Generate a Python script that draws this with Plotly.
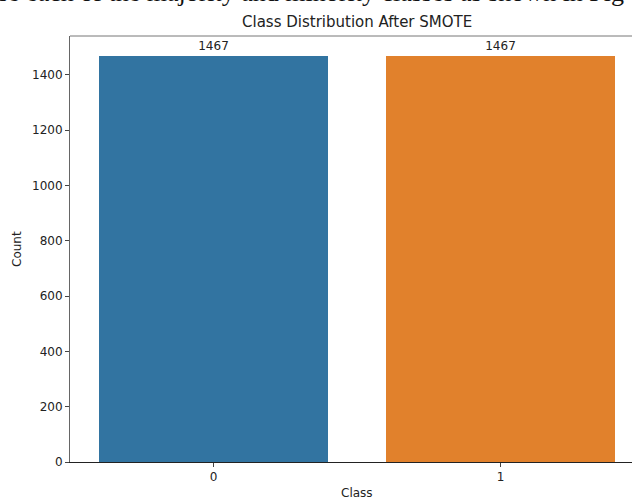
import plotly.graph_objects as go

categories = ["0", "1"]
counts = [1467, 1467]
bar_colors = ["#3274a1", "#e1812c"]
y_ticks = [0, 200, 400, 600, 800, 1000, 1200, 1400]
title_text = "Class Distribution After SMOTE"
doc_text = "se each of the majority and minority classes as shown in Fig"

x_pos = [0, 1]

fig = go.Figure()
fig.add_trace(go.Bar(
    x=x_pos, y=counts, width=0.8,
    marker=dict(color=bar_colors, line=dict(width=0)),
    text=[str(c) for c in counts], textposition="outside",
    textfont=dict(family="DejaVu Sans", size=12, color="#222"),
    cliponaxis=False, showlegend=False,
))

xc = (356.5 - 70) / 562

fig.update_layout(
    width=632, height=500,
    margin=dict(l=70, r=0, t=36, b=38),
    paper_bgcolor="white", plot_bgcolor="white",
    font=dict(family="DejaVu Sans", size=12, color="#222"),
    bargap=0,
    xaxis=dict(
        range=[-0.5, 1.458], tickmode="array", tickvals=x_pos, ticktext=categories,
        showgrid=False, zeroline=False, showline=True, linecolor="#222", linewidth=1,
        ticks="outside", ticklen=4, tickcolor="#444", tickfont=dict(size=12, color="#222"),
    ),
    yaxis=dict(
        range=[0, 1540.35], tickmode="array", tickvals=y_ticks,
        showgrid=False, zeroline=False, showline=True, linecolor="#666", linewidth=1,
        ticks="outside", ticklen=4, tickcolor="#444", tickfont=dict(size=12, color="#222"),
    ),
    shapes=[dict(type="line", xref="paper", yref="paper", x0=0, x1=1, y0=1, y1=1,
                 line=dict(color="#777", width=1))],
    annotations=[
        dict(text=title_text, xref="paper", yref="paper", x=xc, y=1,
             yshift=14, xanchor="center", yanchor="middle", showarrow=False,
             font=dict(size=15, color="#222")),
        dict(text="Count", xref="paper", yref="paper", x=0, xshift=-53, y=0.5,
             textangle=-90, xanchor="center", yanchor="middle", showarrow=False,
             font=dict(size=12, color="#222")),
        dict(text="Class", xref="paper", yref="paper", x=xc, y=0,
             yshift=-31, xanchor="center", yanchor="middle", showarrow=False,
             font=dict(size=12, color="#222")),
        dict(text=doc_text, xref="paper", yref="paper", x=0, xshift=-74, y=1,
             yshift=43.5, xanchor="left", yanchor="middle", showarrow=False,
             font=dict(family="Liberation Serif", size=26, color="#111")),
    ],
)

fig.write_html("out.html", config={"displayModeBar": False},
               post_script="document.body.style.margin='0';document.body.style.overflow='hidden';")
